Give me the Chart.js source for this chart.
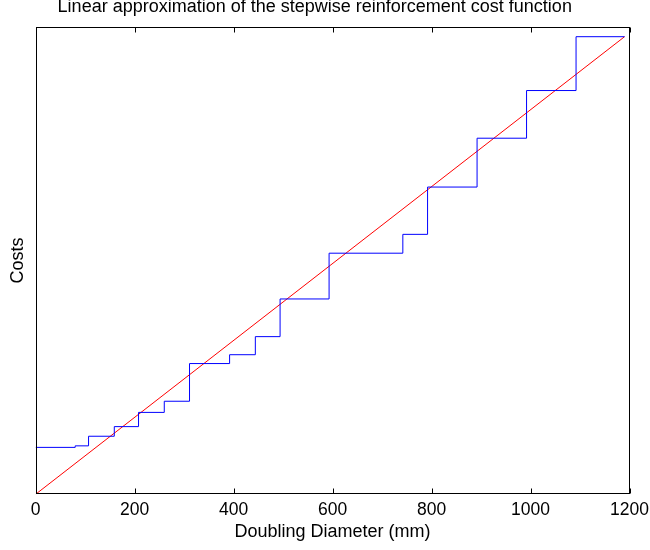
<!DOCTYPE html>
<html>
<head>
<meta charset="utf-8">
<script src="https://cdn.jsdelivr.net/npm/chart.js@4/dist/chart.umd.min.js"></script>
<style>
  html, body { margin: 0; padding: 0; background: #fff; }
  canvas { display: block; }
</style>
</head>
<body>
<canvas id="cost-chart" width="650" height="550"></canvas>
<script>
// stepwise reinforcement cost (value jumps at each diameter)
const stepDiameter = [0, 80, 107, 159, 208, 260, 311, 392, 444, 494, 593, 742, 792, 892, 992, 1092, 1190];
const stepCost = [122, 126, 151, 176, 213, 242, 340, 363, 410, 508, 627, 676, 799, 926, 1050, 1190, 1190];

// linear approximation
const linearDiameter = [0, 1190];
const linearCost = [0, 1190];

const xTicks = [0, 200, 400, 600, 800, 1000, 1200];
const costMax = 1216;

const font = 'Liberation Sans, Arial, Helvetica, sans-serif';

// box round the plot and MATLAB style inward ticks top and bottom
const frame = {
  id: 'frame',
  afterDatasetsDraw(chart) {
    const { ctx, chartArea: a } = chart;
    const xs = chart.scales.x;
    const l = Math.round(a.left) + 0.5, r = Math.round(a.right) - 0.5;
    const t = Math.round(a.top) + 0.5, b = Math.round(a.bottom) - 0.5;
    ctx.save();
    ctx.strokeStyle = '#000';
    ctx.lineWidth = 1;
    ctx.strokeRect(l, t, r - l, b - t);
    ctx.beginPath();
    xTicks.forEach(v => {
      const px = Math.round(xs.getPixelForValue(v)) + 0.5;
      ctx.moveTo(px, b); ctx.lineTo(px, b - 5);
      ctx.moveTo(px, t); ctx.lineTo(px, t + 5);
    });
    ctx.stroke();
    ctx.restore();
  }
};

const ctx = document.getElementById('cost-chart');

new Chart(ctx, {
  type: 'line',
  data: {
    datasets: [
      {
        label: 'Stepwise cost',
        data: stepDiameter.map((d, i) => ({ x: d, y: stepCost[i] })),
        borderColor: '#0000ff',
        borderWidth: 1,
        stepped: 'before',
        pointRadius: 0,
        fill: false
      },
      {
        label: 'Linear approximation',
        data: linearDiameter.map((d, i) => ({ x: d, y: linearCost[i] })),
        borderColor: '#ff0000',
        borderWidth: 1,
        pointRadius: 0,
        fill: false
      }
    ]
  },
  options: {
    responsive: false,
    animation: false,
    devicePixelRatio: 1,
    layout: { padding: { left: 0, right: 20.5, top: 0, bottom: 0 } },
    plugins: {
      legend: { display: false },
      tooltip: { enabled: false },
      title: {
        display: true,
        text: 'Linear approximation of the stepwise reinforcement cost function',
        color: '#000',
        font: { family: font, size: 18, weight: 'normal', lineHeight: 0.8 },
        padding: { top: 0, bottom: 12.3 }
      }
    },
    scales: {
      x: {
        type: 'linear',
        min: 0,
        max: 1200,
        afterBuildTicks: s => { s.ticks = xTicks.map(v => ({ value: v })); },
        afterFit: s => { s.height = 55.7; s.paddingLeft = 0; s.paddingRight = 0; },
        ticks: {
          color: '#000',
          font: { family: font, size: 17.5 },
          padding: 5.3,
          maxRotation: 0,
          callback: v => String(v)
        },
        grid: { display: false, drawTicks: false },
        border: { display: false },
        title: {
          display: true,
          text: 'Doubling Diameter (mm)',
          color: '#000',
          font: { family: font, size: 18 },
          padding: { top: 0, bottom: 7 }
        }
      },
      y: {
        min: 0,
        max: costMax,
        ticks: { display: false },
        grid: { display: false, drawTicks: false },
        border: { display: false },
        title: {
          display: true,
          text: 'Costs',
          color: '#000',
          font: { family: font, size: 18 },
          padding: { top: 7, bottom: 7 }
        }
      }
    }
  },
  plugins: [frame]
});
</script>
</body>
</html>
